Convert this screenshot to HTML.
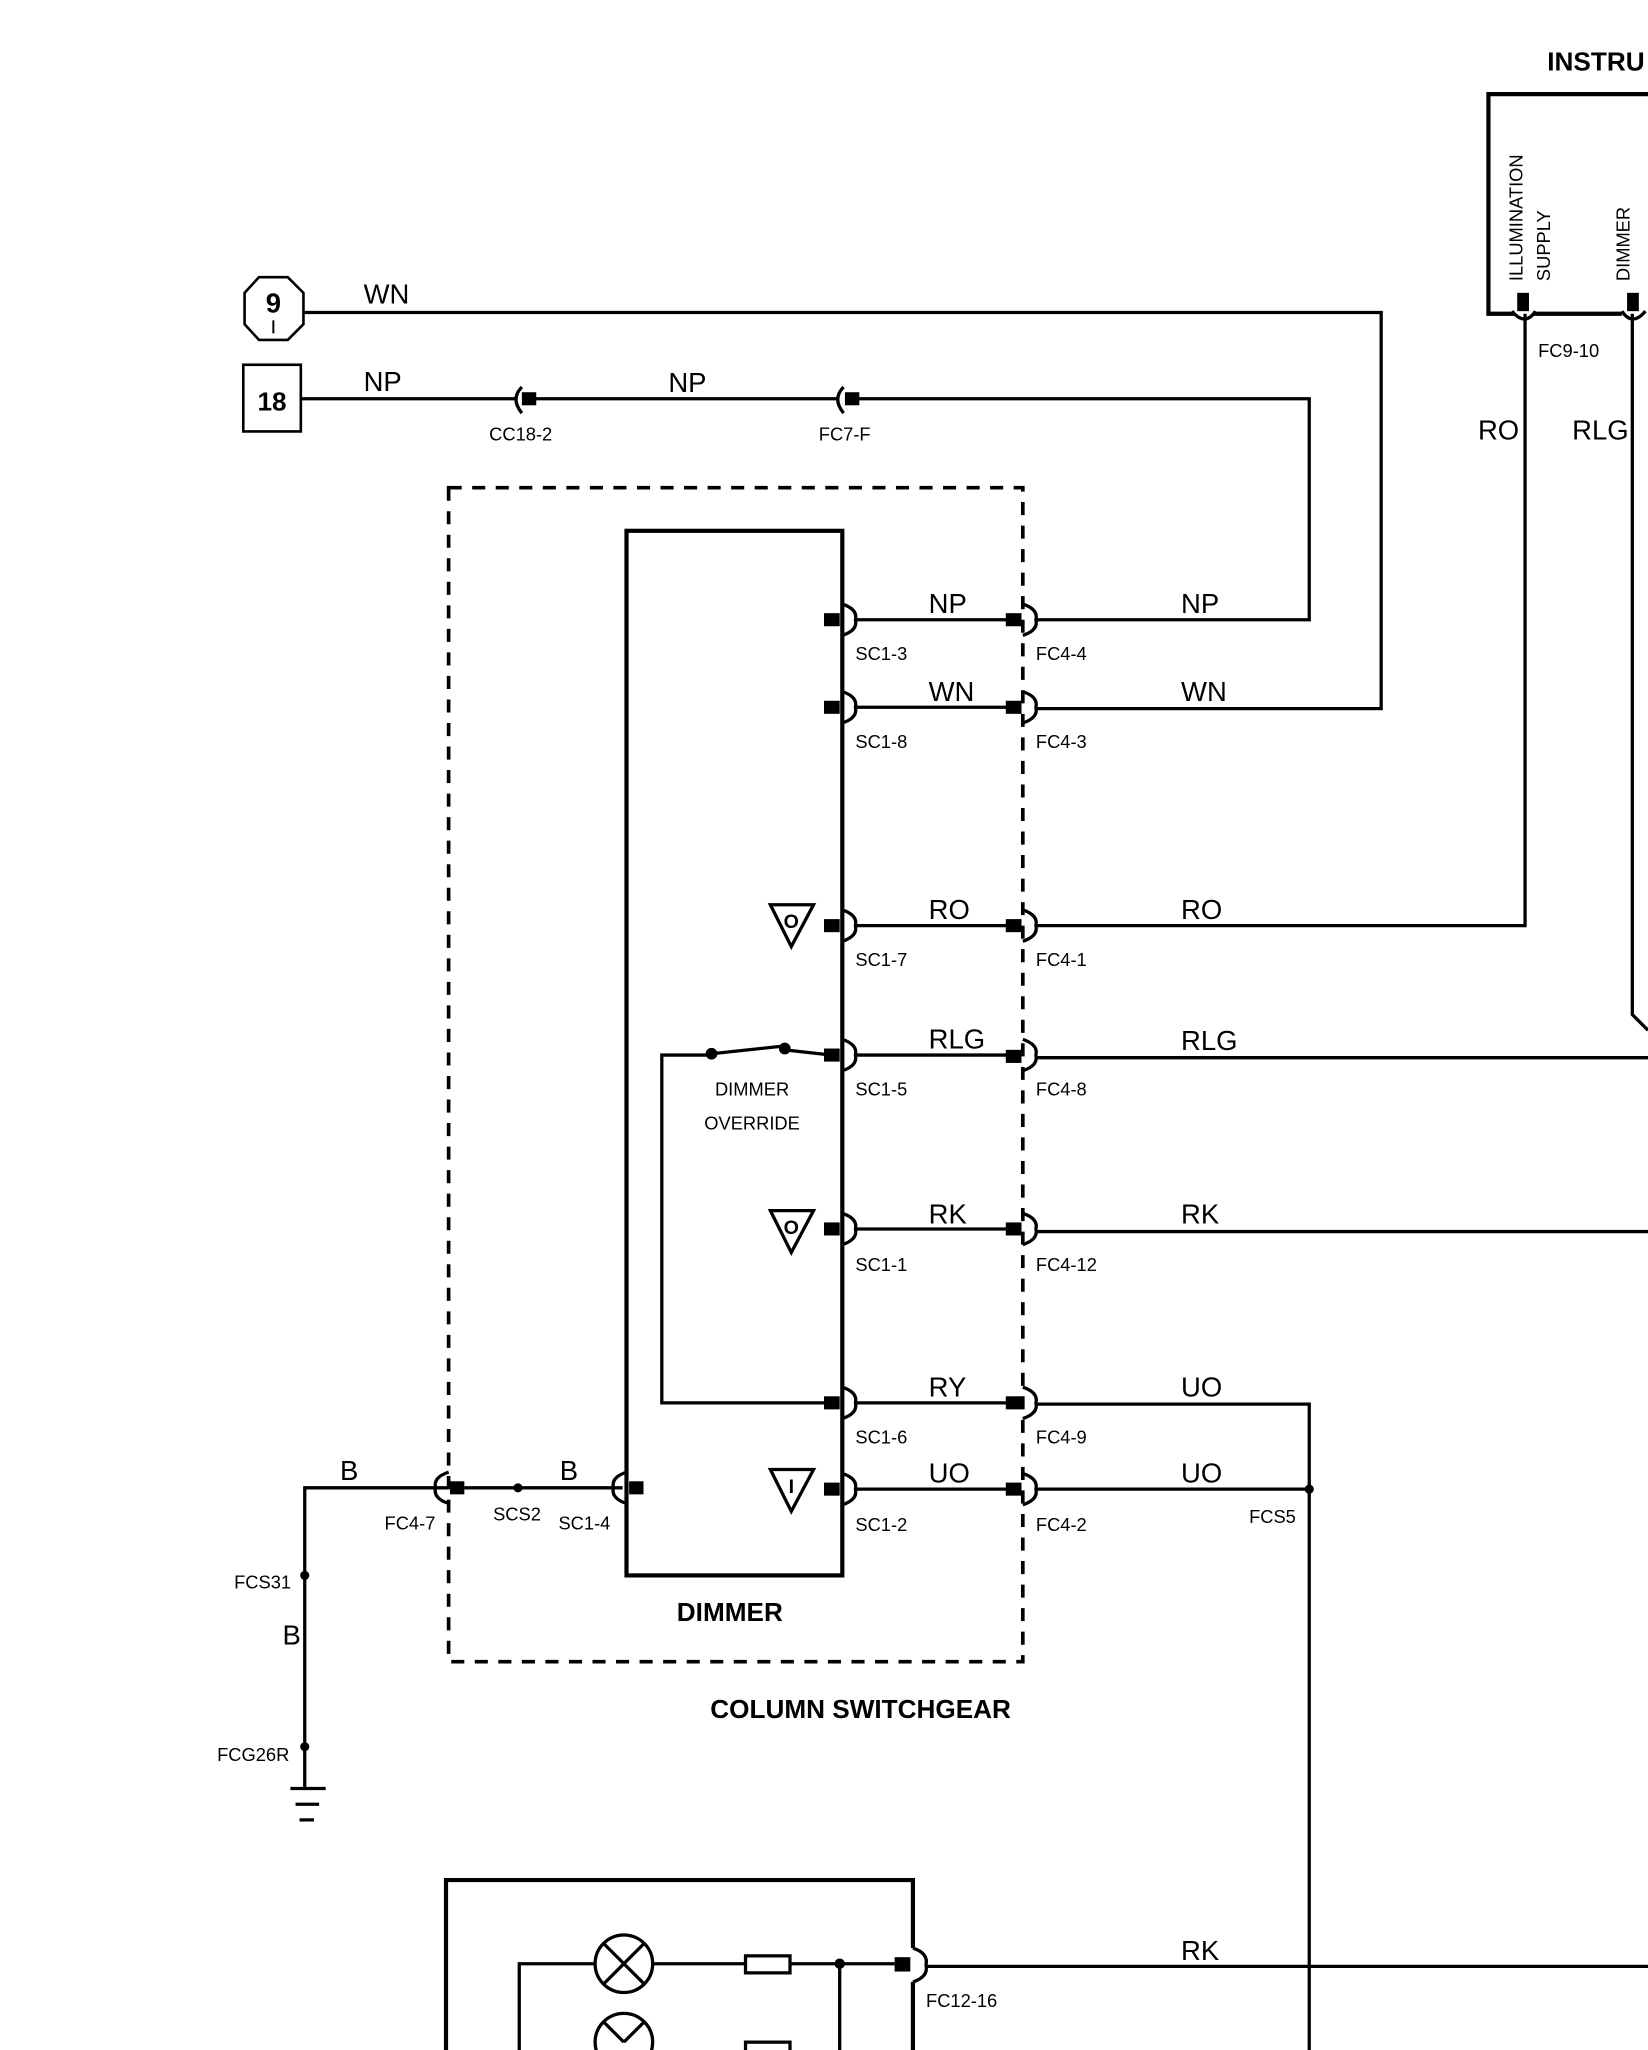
<!DOCTYPE html>
<html><head><meta charset="utf-8"><style>
html,body{margin:0;padding:0;background:#fff}
svg{display:block}
text{font-family:"Liberation Sans",Arial,sans-serif;fill:#000}
.w{font-size:21px}
.s{font-size:14px;font-family:"Liberation Sans Narrow","Liberation Sans",sans-serif}
.b{font-weight:bold}
</style></head><body>
<svg width="1648" height="2050" viewBox="0 0 1260 1568" preserveAspectRatio="none" xmlns="http://www.w3.org/2000/svg">
<g fill="none" stroke="#000" stroke-width="2.5">
<polygon points="198,212 220,212 232,224 232,248 220,260 198,260 187,248 187,224" stroke-width="2"/>
<line x1="209" y1="245" x2="209" y2="255" stroke-width="1.5"/>
<polyline points="232,239 1056,239 1056,542 792,542"/>
<rect x="186" y="279" width="44" height="51" stroke-width="2"/>
<polyline points="230,305 395,305"/>
<line x1="405" y1="305" x2="640" y2="305"/>
<polyline points="650,305 1001,305 1001,474 792,474"/>
<path d="M399,296 Q390,305 399,316"/>
<path d="M645,296 Q636,305 645,316"/>
<rect x="343" y="373" width="439" height="898" stroke-dasharray="10,8" stroke-width="2.8"/>
<rect x="479" y="406" width="165" height="799" stroke-width="3.2"/>
<line x1="654" y1="474" x2="775" y2="474"/>
<line x1="654" y1="541" x2="775" y2="541"/>
<line x1="654" y1="708" x2="775" y2="708"/>
<polyline points="792,708 1166,708 1166,240"/>
<line x1="654" y1="807" x2="775" y2="807"/>
<line x1="792" y1="809" x2="1260" y2="809"/>
<polyline points="1248,240 1248,776 1260,788"/>
<line x1="654" y1="940" x2="775" y2="940"/>
<line x1="792" y1="942" x2="1260" y2="942"/>
<line x1="654" y1="1073" x2="775" y2="1073"/>
<polyline points="792,1074 1001,1074 1001,1568"/>
<line x1="654" y1="1139" x2="775" y2="1139"/>
<line x1="792" y1="1139" x2="1001" y2="1139"/>
<path d="M644,462 Q656,466 654,474 Q656,482 644,486"/>
<path d="M644,529 Q656,533 654,541 Q656,549 644,553"/>
<path d="M644,696 Q656,700 654,708 Q656,716 644,720"/>
<path d="M644,795 Q656,799 654,807 Q656,815 644,819"/>
<path d="M644,928 Q656,932 654,940 Q656,948 644,952"/>
<path d="M644,1061 Q656,1065 654,1073 Q656,1081 644,1085"/>
<path d="M644,1127 Q656,1131 654,1139 Q656,1147 644,1151"/>
<path d="M782,462 Q794,466 792,474 Q794,482 782,486"/>
<path d="M782,529 Q794,533 792,541 Q794,549 782,553"/>
<path d="M782,696 Q794,700 792,708 Q794,716 782,720"/>
<path d="M782,795 Q794,799 792,807 Q794,815 782,819"/>
<path d="M782,928 Q794,932 792,940 Q794,948 782,952"/>
<path d="M782,1061 Q794,1065 792,1073 Q794,1081 782,1085"/>
<path d="M782,1127 Q794,1131 792,1139 Q794,1147 782,1151"/>
<polyline points="636,807 600,803"/>
<line x1="544" y1="806" x2="600" y2="800"/>
<polyline points="544,807 506,807 506,1073 636,1073"/>
<polygon points="589,692 622,692 605,724"/>
<polygon points="589,926 622,926 605,958"/>
<polygon points="589,1124 622,1124 605,1156"/>
<polyline points="343,1138 233,1138 233,1368"/>
<line x1="355" y1="1138" x2="476" y2="1138"/>
<path d="M343,1126 Q331,1130 333,1138 Q331,1146 343,1150"/>
<path d="M479,1126 Q467,1130 469,1138 Q467,1146 479,1150"/>
<line x1="222" y1="1368" x2="249" y2="1368" stroke-width="2.5"/>
<line x1="226" y1="1380" x2="244" y2="1380" stroke-width="2.5"/>
<line x1="229" y1="1392" x2="240" y2="1392" stroke-width="2.5"/>
<polyline points="341,1568 341,1438 698,1438 698,1490" stroke-width="3.2"/>
<line x1="698" y1="1516" x2="698" y2="1568" stroke-width="3.2"/>
<path d="M698,1490 Q710,1494 708,1503 Q710,1512 698,1516"/>
<polyline points="397,1568 397,1502 455,1502"/>
<line x1="499" y1="1502" x2="570" y2="1502"/>
<line x1="604" y1="1502" x2="684" y2="1502"/>
<line x1="708" y1="1504" x2="1260" y2="1504"/>
<line x1="642" y1="1502" x2="642" y2="1568"/>
<circle cx="477" cy="1502" r="22"/>
<line x1="462" y1="1487" x2="492" y2="1517"/><line x1="492" y1="1487" x2="462" y2="1517"/>
<circle cx="477" cy="1562" r="22"/>
<line x1="462" y1="1547" x2="477" y2="1562"/><line x1="492" y1="1547" x2="477" y2="1562"/>
<rect x="570" y="1496" width="34" height="13"/>
<rect x="570" y="1562" width="34" height="13"/>
<polyline points="1260,72 1138,72 1138,240 1158,240" stroke-width="3.2"/>
<line x1="1172" y1="240" x2="1240" y2="240" stroke-width="3.2"/>
<path d="M1156,238 Q1166,250 1174,238"/>
<path d="M1240,238 Q1248,250 1258,238"/>
</g>
<g fill="#000">
<rect x="630" y="469" width="12" height="10"/><rect x="769" y="469" width="12" height="10"/>
<rect x="630" y="536" width="12" height="10"/><rect x="769" y="536" width="12" height="10"/>
<rect x="630" y="703" width="12" height="10"/><rect x="769" y="703" width="12" height="10"/>
<rect x="630" y="802" width="12" height="10"/><rect x="769" y="803" width="12" height="10"/>
<rect x="630" y="935" width="12" height="10"/><rect x="769" y="935" width="12" height="10"/>
<rect x="630" y="1068" width="12" height="10"/><rect x="769" y="1068" width="12" height="10"/>
<rect x="630" y="1134" width="12" height="10"/><rect x="769" y="1134" width="12" height="10"/>
<rect x="344" y="1133" width="11" height="10"/><rect x="481" y="1133" width="11" height="10"/>
<rect x="399" y="300" width="11" height="10"/><rect x="646" y="300" width="11" height="10"/>
<rect x="684" y="1497" width="12" height="11"/>
<rect x="1160" y="224" width="9" height="14"/><rect x="1244" y="224" width="9" height="14"/>
<circle cx="544" cy="806" r="4.5"/><circle cx="600" cy="802" r="4.5"/>
<circle cx="396" cy="1138" r="3.5"/><circle cx="233" cy="1205" r="3.5"/><circle cx="233" cy="1336" r="3.5"/>
<circle cx="1001" cy="1139" r="3.5"/><circle cx="642" cy="1502" r="4"/>
</g>
<g>
<text x="209" y="239" class="w b" font-size="19" text-anchor="middle">9</text>
<text x="208" y="314" class="b" font-size="20" text-anchor="middle">18</text>
<text x="278" y="232" class="w">WN</text>
<text x="278" y="299" class="w">NP</text>
<text x="511" y="300" class="w">NP</text>
<text x="374" y="337" class="s">CC18-2</text>
<text x="626" y="337" class="s">FC7-F</text>
<text x="710" y="469" class="w">NP</text><text x="903" y="469" class="w">NP</text>
<text x="710" y="536" class="w">WN</text><text x="903" y="536" class="w">WN</text>
<text x="710" y="703" class="w">RO</text><text x="903" y="703" class="w">RO</text>
<text x="710" y="802" class="w">RLG</text><text x="903" y="803" class="w">RLG</text>
<text x="710" y="936" class="w">RK</text><text x="903" y="936" class="w">RK</text>
<text x="710" y="1068" class="w">RY</text><text x="903" y="1068" class="w">UO</text>
<text x="710" y="1134" class="w">UO</text><text x="903" y="1134" class="w">UO</text>
<text x="654" y="505" class="s">SC1-3</text><text x="792" y="505" class="s">FC4-4</text>
<text x="654" y="572" class="s">SC1-8</text><text x="792" y="572" class="s">FC4-3</text>
<text x="654" y="739" class="s">SC1-7</text><text x="792" y="739" class="s">FC4-1</text>
<text x="654" y="838" class="s">SC1-5</text><text x="792" y="838" class="s">FC4-8</text>
<text x="654" y="972" class="s">SC1-1</text><text x="792" y="972" class="s">FC4-12</text>
<text x="654" y="1104" class="s">SC1-6</text><text x="792" y="1104" class="s">FC4-9</text>
<text x="654" y="1171" class="s">SC1-2</text><text x="792" y="1171" class="s">FC4-2</text>
<text x="955" y="1165" class="s">FCS5</text>
<text x="575" y="838" class="s" text-anchor="middle">DIMMER</text>
<text x="575" y="864" class="s" text-anchor="middle">OVERRIDE</text>
<text x="605" y="710" class="b" font-size="15" text-anchor="middle">O</text>
<text x="605" y="944" class="b" font-size="15" text-anchor="middle">O</text>
<text x="605" y="1142" class="b" font-size="15" text-anchor="middle">I</text>
<text x="260" y="1132" class="w">B</text>
<text x="428" y="1132" class="w">B</text>
<text x="216" y="1258" class="w">B</text>
<text x="294" y="1170" class="s">FC4-7</text>
<text x="377" y="1163" class="s">SCS2</text>
<text x="427" y="1170" class="s">SC1-4</text>
<text x="179" y="1215" class="s">FCS31</text>
<text x="166" y="1347" class="s">FCG26R</text>
<text x="558" y="1240" class="b" font-size="20" text-anchor="middle">DIMMER</text>
<text x="658" y="1314" class="b" font-size="20" text-anchor="middle">COLUMN SWITCHGEAR</text>
<text x="708" y="1535" class="s">FC12-16</text>
<text x="903" y="1499" class="w">RK</text>
<text x="1183" y="54" class="b" font-size="20">INSTRU</text>
<text x="1176" y="273" class="s">FC9-10</text>
<text x="1130" y="336" class="w">RO</text>
<text x="1202" y="336" class="w">RLG</text>
<text transform="translate(1164,215) rotate(-90)" class="s">ILLUMINATION</text>
<text transform="translate(1185,215) rotate(-90)" class="s">SUPPLY</text>
<text transform="translate(1246,215) rotate(-90)" class="s">DIMMER</text>
</g>
</svg>
</body></html>
